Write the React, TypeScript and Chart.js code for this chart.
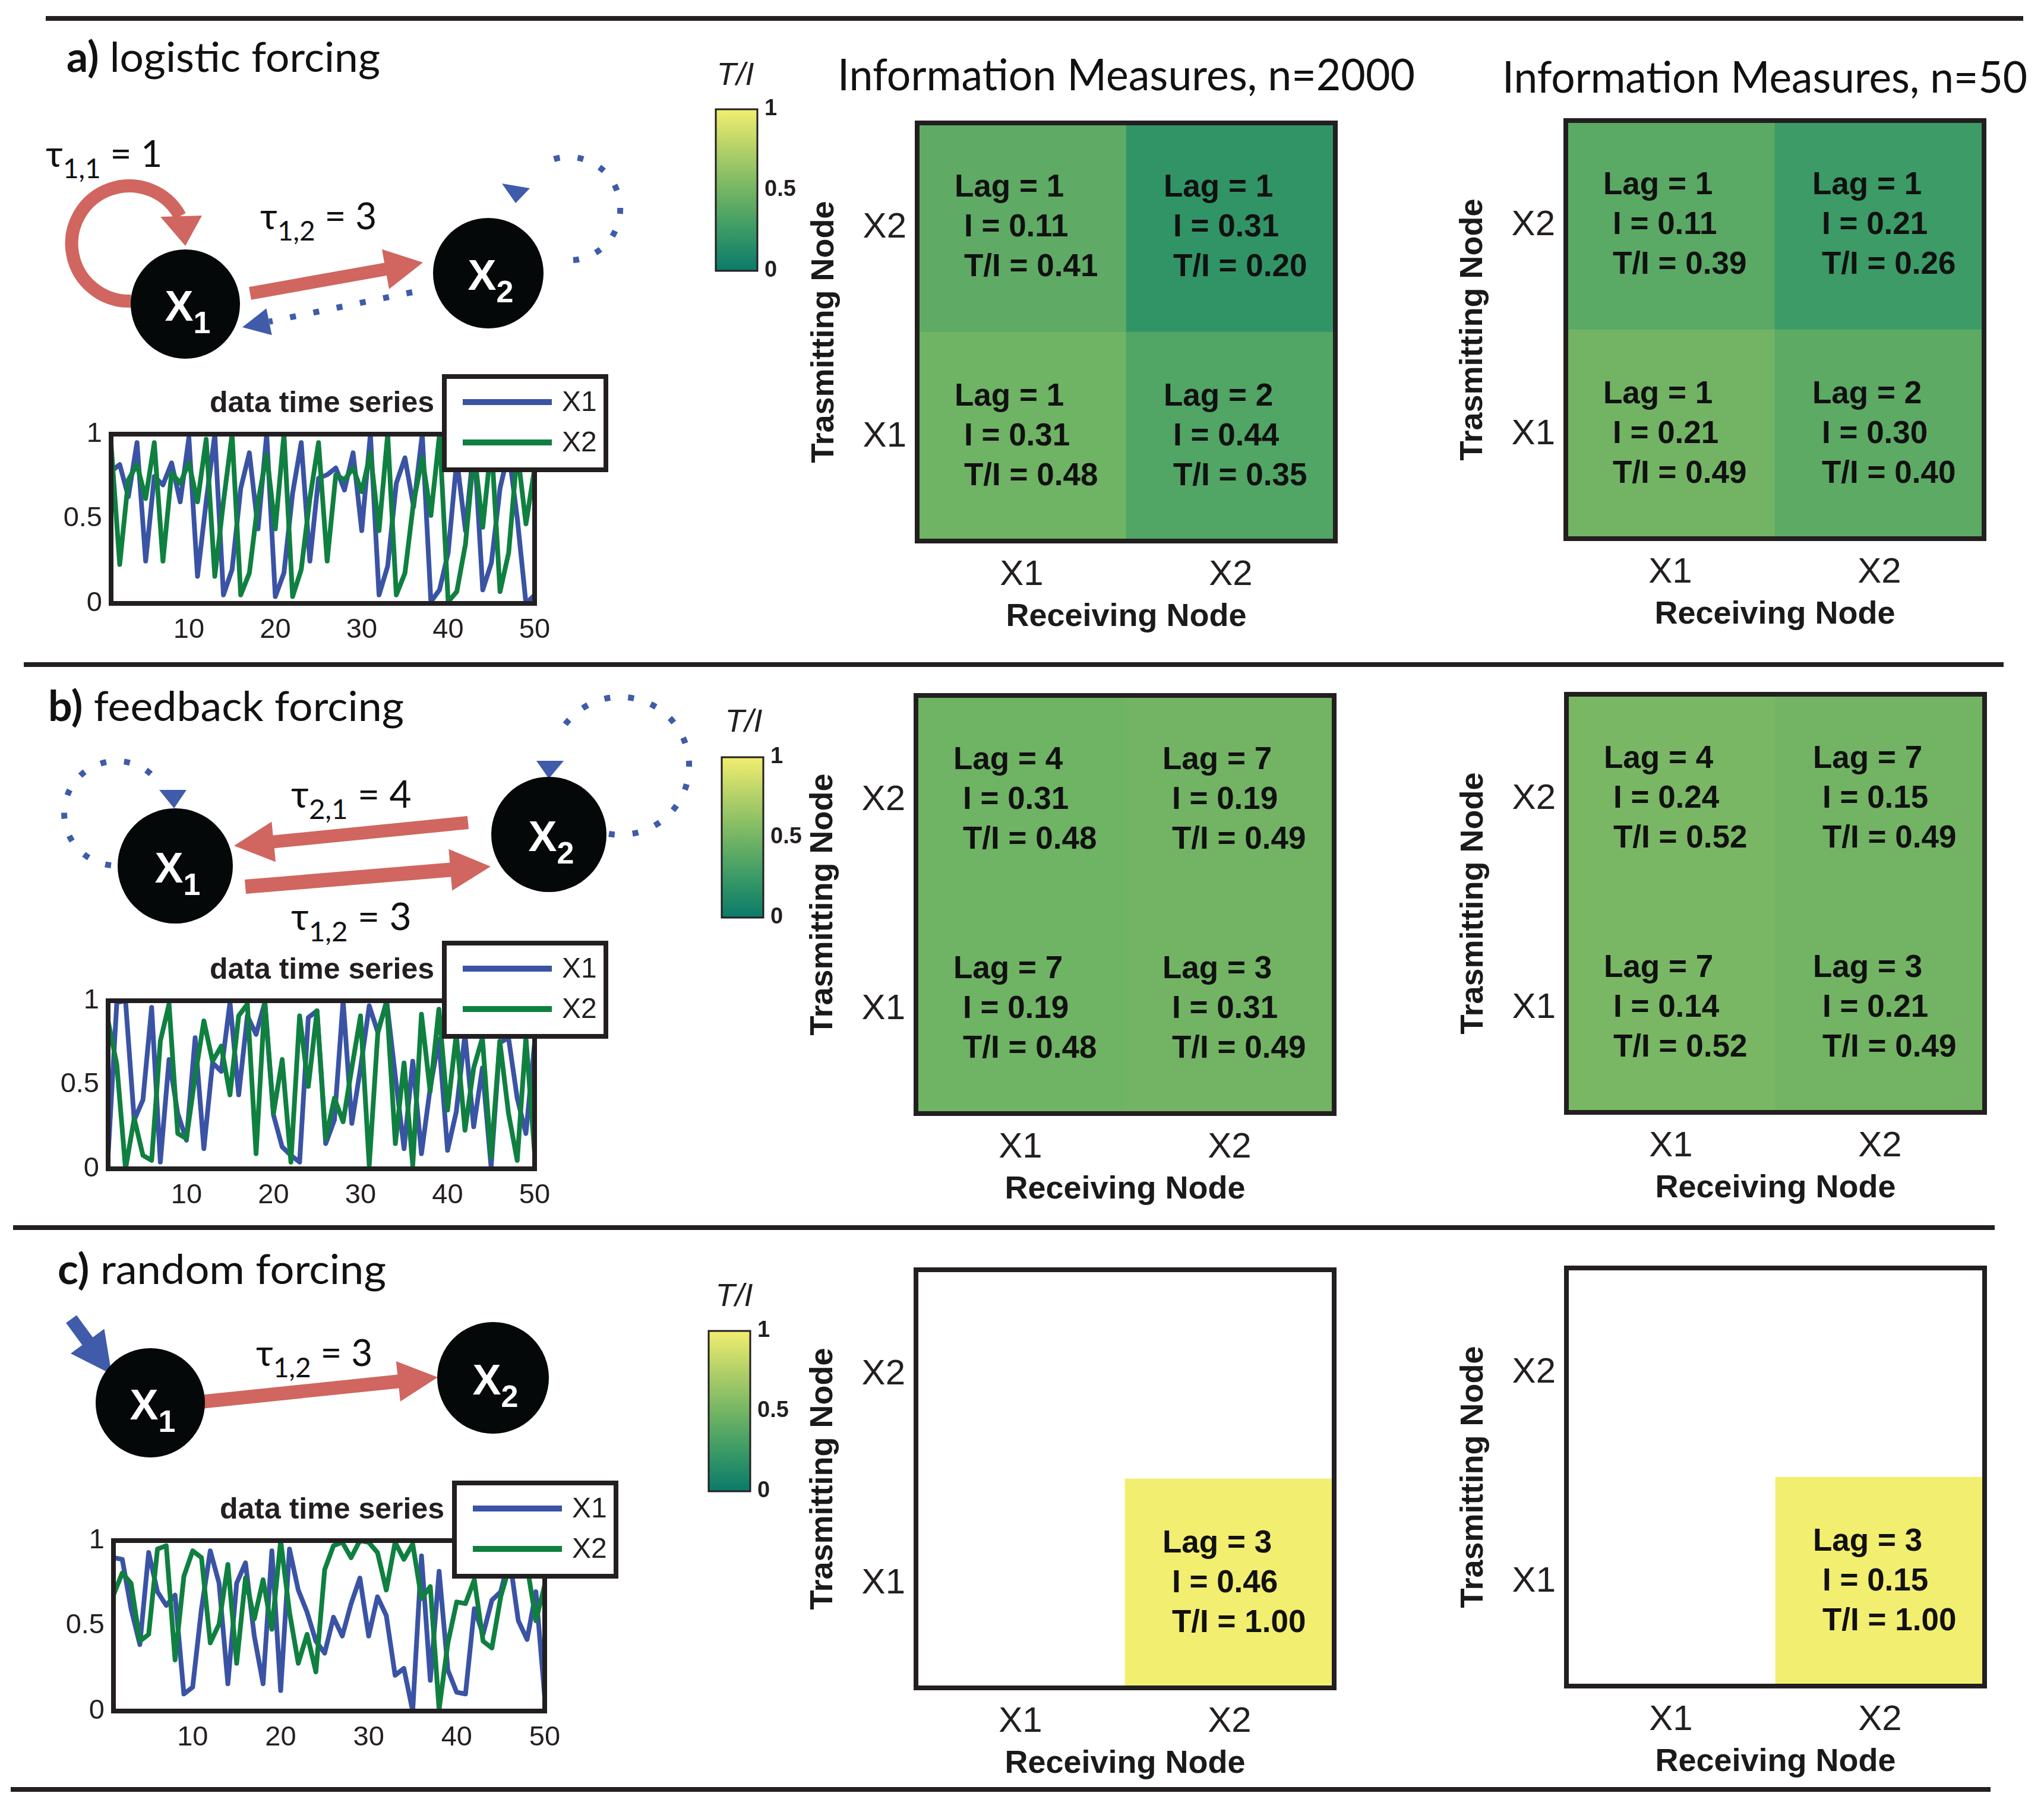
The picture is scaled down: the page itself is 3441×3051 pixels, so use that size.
import React, { useEffect, useRef } from 'react';
import { Chart, registerables } from 'chart.js';

Chart.register(...registerables);

// ---------------- data ----------------
const timeSteps = Array.from({ length: 50 }, (_, i) => i + 1);
const tsTickValues = [10, 20, 30, 40, 50];
const tsYTickValues = [0, 0.5, 1];
const seriesNames = ['X1', 'X2'];
const tsTitle = 'data time series';

const logisticX1 = [0.78, 0.82, 0.63, 0.95, 0.25, 0.75, 0.70, 0.83, 0.60, 0.98, 0.16, 0.60, 1.00, 0.05, 0.20, 0.68, 0.89, 0.44, 1.00, 0.04, 0.18, 0.65, 0.95, 0.25, 0.74, 0.76, 0.80, 0.67, 0.89, 0.43, 1.00, 0.05, 0.22, 0.71, 0.86, 0.57, 1.00, 0.01, 0.08, 0.30, 0.85, 0.43, 0.95, 0.08, 0.24, 0.68, 0.90, 0.50, 0.00, 0.05];
const logisticX2 = [0.94, 0.23, 0.73, 0.82, 0.62, 0.95, 0.25, 0.77, 0.71, 0.83, 0.60, 0.97, 0.16, 0.60, 1.00, 0.05, 0.18, 0.60, 0.88, 0.44, 1.00, 0.04, 0.20, 0.62, 0.95, 0.25, 0.76, 0.73, 0.80, 0.66, 0.89, 0.43, 1.00, 0.05, 0.18, 0.60, 0.86, 0.52, 1.00, 0.01, 0.07, 0.35, 0.90, 0.45, 0.95, 0.07, 0.30, 0.90, 0.47, 0.80];

const feedbackX1 = [0.08, 0.99, 1.00, 0.29, 0.41, 0.96, 0.04, 0.65, 0.33, 0.17, 0.78, 0.12, 0.63, 0.58, 0.99, 0.44, 0.91, 0.80, 0.99, 0.32, 0.13, 0.08, 0.04, 0.90, 0.94, 0.15, 0.29, 1.00, 0.27, 0.60, 0.97, 0.81, 1.00, 0.55, 0.12, 0.64, 0.09, 0.48, 0.77, 0.11, 0.34, 0.80, 0.25, 0.60, 0.01, 0.75, 0.78, 0.42, 0.21, 0.75];
const feedbackX2 = [0.88, 0.62, 0.00, 0.30, 0.08, 0.05, 0.76, 0.98, 0.21, 0.18, 0.55, 0.88, 0.64, 0.73, 0.44, 0.91, 0.98, 0.09, 1.00, 0.33, 0.65, 0.04, 0.91, 0.49, 0.94, 0.18, 0.42, 0.28, 0.60, 0.91, 0.02, 0.82, 0.99, 0.15, 0.63, 0.02, 0.92, 0.46, 0.95, 0.35, 0.80, 0.23, 0.60, 0.78, 0.07, 0.76, 0.33, 0.05, 0.78, 0.09];

const randomX1 = [0.90, 0.89, 0.60, 0.39, 0.93, 0.70, 0.62, 0.68, 0.10, 0.14, 0.60, 0.94, 0.75, 0.16, 0.75, 0.87, 0.44, 0.16, 0.94, 0.12, 0.95, 0.71, 0.58, 0.41, 0.34, 0.55, 0.44, 0.63, 0.78, 0.44, 0.67, 0.56, 0.21, 0.25, 0.00, 0.91, 0.18, 0.82, 0.24, 0.11, 0.10, 0.60, 0.45, 0.65, 0.70, 0.90, 0.53, 0.42, 0.70, 0.08];
const randomX2 = [0.68, 0.81, 0.75, 0.41, 0.45, 0.95, 0.97, 0.30, 0.79, 0.94, 0.90, 0.40, 0.51, 0.86, 0.28, 0.78, 0.54, 0.77, 0.48, 1.00, 0.58, 0.28, 0.45, 0.23, 0.83, 0.97, 0.99, 0.90, 1.00, 0.99, 0.93, 0.71, 0.99, 0.89, 0.98, 0.66, 0.73, 0.01, 0.40, 0.64, 0.63, 0.77, 0.41, 0.37, 0.67, 0.85, 0.80, 0.85, 0.53, 0.74];

// heatmap cells: rows = transmitting node [X1, X2], columns = receiving node [X1, X2]
const nodeNames = ['X1', 'X2'];
const receivingTitle = 'Receiving Node';
const transmittingTitle = 'Trasmitting Node';

const lagLogistic2000 = [[1, 2], [1, 1]];
const miLogistic2000 = [[0.31, 0.44], [0.11, 0.31]];
const tiLogistic2000 = [[0.48, 0.35], [0.41, 0.20]];
const lagLogistic50 = [[1, 2], [1, 1]];
const miLogistic50 = [[0.21, 0.30], [0.11, 0.21]];
const tiLogistic50 = [[0.49, 0.40], [0.39, 0.26]];

const lagFeedback2000 = [[7, 3], [4, 7]];
const miFeedback2000 = [[0.19, 0.31], [0.31, 0.19]];
const tiFeedback2000 = [[0.48, 0.49], [0.48, 0.49]];
const lagFeedback50 = [[7, 3], [4, 7]];
const miFeedback50 = [[0.14, 0.21], [0.24, 0.15]];
const tiFeedback50 = [[0.52, 0.49], [0.52, 0.49]];

const lagRandom2000 = [[null, 3], [null, null]];
const miRandom2000 = [[null, 0.46], [null, null]];
const tiRandom2000 = [[null, 1.0], [null, null]];
const lagRandom50 = [[null, 3], [null, null]];
const miRandom50 = [[null, 0.15], [null, null]];
const tiRandom50 = [[null, 1.0], [null, null]];

const colorbarRange = [0, 1];
const colorbarTicks = [0, 0.5, 1];

// ---------------- styles ----------------
const SANS = '"Liberation Sans", Arial, sans-serif';
const HUMAN = 'Lato, "Noto Sans", "DejaVu Sans", sans-serif';
const INK = '#231F20';
const BLUE = '#3A53A4';
const GREEN = '#0F8040';
const RED = '#D0665F';
const DOT_BLUE = '#3F5BA9';
const COLORMAP: [number, string][] = [
  [0, '#0B7A6A'],
  [0.25, '#3A9A66'],
  [0.5, '#74B564'],
  [0.75, '#B2D068'],
  [1, '#F2EE70'],
];

function hexToRgb(h: string) {
  return [parseInt(h.slice(1, 3), 16), parseInt(h.slice(3, 5), 16), parseInt(h.slice(5, 7), 16)];
}
function colormap(v: number) {
  const t = Math.max(0, Math.min(1, v));
  for (let i = 0; i < COLORMAP.length - 1; i++) {
    const [t0, c0] = COLORMAP[i];
    const [t1, c1] = COLORMAP[i + 1];
    if (t <= t1) {
      const f = (t - t0) / (t1 - t0);
      const a = hexToRgb(c0);
      const b = hexToRgb(c1);
      const c = a.map((x, k) => Math.round(x + f * (b[k] - x)));
      return `rgb(${c[0]},${c[1]},${c[2]})`;
    }
  }
  return COLORMAP[COLORMAP.length - 1][1];
}

const plainNumber = (v: any) => `${v}`;

const framePlugin = (w: number) => ({
  id: 'frame',
  afterDatasetsDraw(chart: any) {
    const { ctx, chartArea: a } = chart;
    ctx.save();
    ctx.strokeStyle = INK;
    ctx.lineWidth = w;
    ctx.strokeRect(a.left, a.top, a.right - a.left, a.bottom - a.top);
    ctx.restore();
  },
});

const tsLegendPlugin = {
  id: 'tsLegend',
  afterDraw(chart: any) {
    const { ctx, chartArea: a } = chart;
    const lx = a.right - 152;
    const ly = a.top - 97;
    const lw = 272;
    const lh = 157;
    ctx.save();
    ctx.fillStyle = '#fff';
    ctx.fillRect(lx, ly, lw, lh);
    ctx.lineWidth = 8;
    ctx.strokeStyle = INK;
    ctx.strokeRect(lx, ly, lw, lh);
    chart.data.datasets.forEach((ds: any, i: number) => {
      const y = ly + 43 + i * 68;
      ctx.strokeStyle = ds.borderColor;
      ctx.lineWidth = 10;
      ctx.beginPath();
      ctx.moveTo(lx + 31, y);
      ctx.lineTo(lx + 181, y);
      ctx.stroke();
      ctx.fillStyle = INK;
      ctx.font = `48px ${SANS}`;
      ctx.textAlign = 'left';
      ctx.textBaseline = 'middle';
      ctx.fillText(ds.label, lx + 198, y + 2);
    });
    ctx.fillStyle = INK;
    ctx.font = `bold 50px ${SANS}`;
    ctx.textAlign = 'right';
    ctx.textBaseline = 'alphabetic';
    ctx.fillText(tsTitle, lx - 17, a.top - 37);
    ctx.restore();
  },
};

// ---------------- components ----------------
function TimeSeries({ area, x1, x2 }: any) {
  const ref = useRef<HTMLCanvasElement>(null);
  const [L, T, R, B] = area;
  const YW = 107, XH = 90, PT = 131, PR = 180;
  const cl = L - YW, ct = T - PT;
  const cw = R - L + YW + PR, ch = B - T + PT + XH;
  useEffect(() => {
    const mk = (arr: number[]) => timeSteps.map((t, i) => ({ x: t, y: arr[i] }));
    const chart = new Chart(ref.current as any, {
      type: 'line',
      data: {
        datasets: [
          { label: seriesNames[0], data: mk(x1), borderColor: BLUE, borderWidth: 8, pointRadius: 0, borderJoinStyle: 'round', tension: 0, order: 1 },
          { label: seriesNames[1], data: mk(x2), borderColor: GREEN, borderWidth: 8, pointRadius: 0, borderJoinStyle: 'round', tension: 0, order: 0 },
        ],
      } as any,
      options: {
        animation: false,
        responsive: false,
        devicePixelRatio: 1,
        layout: { padding: { left: 0, top: PT, right: PR, bottom: 0 } },
        plugins: { legend: { display: false }, tooltip: { enabled: false }, title: { display: false } },
        scales: {
          x: {
            type: 'linear',
            min: timeSteps[0],
            max: timeSteps[timeSteps.length - 1],
            grid: { display: false, drawTicks: false },
            border: { display: false },
            afterBuildTicks: (s: any) => { s.ticks = tsTickValues.map((v) => ({ value: v })); },
            afterFit: (s: any) => { s.height = XH; },
            ticks: { padding: 17, autoSkip: false, maxRotation: 0, color: INK, font: { family: SANS, size: 47 }, callback: plainNumber },
          },
          y: {
            type: 'linear',
            min: 0,
            max: 1,
            grid: { display: false, drawTicks: false },
            border: { display: false },
            afterBuildTicks: (s: any) => { s.ticks = tsYTickValues.map((v) => ({ value: v })); },
            afterFit: (s: any) => { s.width = YW; },
            ticks: { padding: 15, color: INK, font: { family: SANS, size: 47 }, callback: plainNumber },
          },
        },
      } as any,
      plugins: [framePlugin(8), tsLegendPlugin] as any,
    });
    return () => chart.destroy();
  }, []);
  return <canvas ref={ref} width={cw} height={ch} style={{ position: 'absolute', left: cl, top: ct, width: cw, height: ch }} />;
}

function Heatmap({ L, T, S, lag, mi, ti }: any) {
  const ref = useRef<HTMLCanvasElement>(null);
  const YW = 200, PL = 10, PT = 70, PR = 12, XH = 170;
  const cl = L - YW - PL, ct = T - PT;
  const cw = PL + YW + S + PR, ch = PT + S + XH;
  useEffect(() => {
    const cellText = {
      id: 'cellText',
      afterDatasetsDraw(chart: any) {
        const { ctx } = chart;
        ctx.save();
        ctx.fillStyle = '#111';
        ctx.font = `bold 53px ${SANS}`;
        ctx.textAlign = 'left';
        ctx.textBaseline = 'alphabetic';
        chart.data.datasets.forEach((_: any, r: number) => {
          const meta = chart.getDatasetMeta(r);
          meta.data.forEach((el: any, c: number) => {
            if (ti[r][c] == null) return;
            const p = el.getProps(['x', 'y', 'base', 'width'], true);
            const left = p.x - p.width / 2;
            const top = Math.min(p.y, p.base);
            ctx.fillText(`Lag = ${lag[r][c]}`, left + 63, top + 124);
            ctx.fillText(`I = ${mi[r][c].toFixed(2)}`, left + 79, top + 191);
            ctx.fillText(`T/I = ${ti[r][c].toFixed(2)}`, left + 79, top + 258);
          });
        });
        ctx.restore();
      },
    };
    const datasets = nodeNames.map((tn, r) => ({
      label: tn,
      data: nodeNames.map((_, c) => (ti[r][c] == null ? null : [r, r + 1])),
      backgroundColor: nodeNames.map((_, c) => (ti[r][c] == null ? 'rgba(0,0,0,0)' : colormap(ti[r][c]))),
      borderWidth: 0,
      grouped: false,
      barPercentage: 1,
      categoryPercentage: 1,
    }));
    const chart = new Chart(ref.current as any, {
      type: 'bar',
      data: { labels: nodeNames, datasets } as any,
      options: {
        animation: false,
        responsive: false,
        devicePixelRatio: 1,
        layout: { padding: { left: PL, top: PT, right: PR, bottom: 0 } },
        plugins: { legend: { display: false }, tooltip: { enabled: false } },
        scales: {
          x: {
            type: 'category',
            offset: true,
            grid: { display: false, drawTicks: false },
            border: { display: false },
            afterFit: (s: any) => { s.height = XH; },
            ticks: { padding: 21, color: INK, font: { family: SANS, size: 60 } },
            title: { display: true, text: receivingTitle, color: '#1a1a1a', font: { family: SANS, size: 54, weight: 'bold' }, padding: { top: 0, bottom: 9 } },
          },
          y: {
            type: 'linear',
            min: 0,
            max: nodeNames.length,
            grid: { display: false, drawTicks: false },
            border: { display: false },
            afterBuildTicks: (s: any) => { s.ticks = nodeNames.map((_, i) => ({ value: i + 0.5 })); },
            afterFit: (s: any) => { s.width = YW; },
            ticks: { padding: 18, color: INK, font: { family: SANS, size: 60 }, callback: (v: any) => nodeNames[Math.floor(v)] },
            title: { display: true, text: transmittingTitle, color: '#1a1a1a', font: { family: SANS, size: 54, weight: 'bold' }, padding: { top: 12, bottom: 0 } },
          },
        },
      } as any,
      plugins: [cellText, framePlugin(8)] as any,
    });
    return () => chart.destroy();
  }, []);
  return <canvas ref={ref} width={cw} height={ch} style={{ position: 'absolute', left: cl, top: ct, width: cw, height: ch }} />;
}

function Colorbar({ L, T, W, H }: any) {
  const ref = useRef<HTMLCanvasElement>(null);
  const PL = 4, PV = 50, YW = 90;
  const cl = L - PL, ct = T - PV;
  const cw = PL + W + YW, ch = H + 2 * PV;
  useEffect(() => {
    const chart = new Chart(ref.current as any, {
      type: 'bar',
      data: {
        labels: [''],
        datasets: [{
          data: [colorbarRange],
          borderWidth: 0,
          barPercentage: 1,
          categoryPercentage: 1,
          backgroundColor: (c: any) => {
            const a = c.chart.chartArea;
            if (!a) return COLORMAP[2][1];
            const g = c.chart.ctx.createLinearGradient(0, a.bottom, 0, a.top);
            COLORMAP.forEach(([t, col]) => g.addColorStop(t, col));
            return g;
          },
        }],
      } as any,
      options: {
        animation: false,
        responsive: false,
        devicePixelRatio: 1,
        layout: { padding: { left: PL, top: PV, right: 0, bottom: PV } },
        plugins: { legend: { display: false }, tooltip: { enabled: false } },
        scales: {
          x: { display: false },
          y: {
            position: 'right',
            min: colorbarRange[0],
            max: colorbarRange[1],
            grid: { display: false, drawTicks: false },
            border: { display: false },
            afterBuildTicks: (s: any) => { s.ticks = colorbarTicks.map((v) => ({ value: v })); },
            afterFit: (s: any) => { s.width = YW; },
            ticks: { padding: 12, color: INK, font: { family: SANS, size: 38, weight: 'bold' }, callback: plainNumber },
          },
        },
      } as any,
      plugins: [framePlugin(3)] as any,
    });
    return () => chart.destroy();
  }, []);
  return <canvas ref={ref} width={cw} height={ch} style={{ position: 'absolute', left: cl, top: ct, width: cw, height: ch }} />;
}

function arrowPoints(sx: number, sy: number, tx: number, ty: number, shaftW: number, headLen: number, headHalf: number) {
  const dx = tx - sx, dy = ty - sy;
  const len = Math.hypot(dx, dy);
  const ux = dx / len, uy = dy / len;
  const px = -uy, py = ux;
  const bx = tx - ux * headLen, by = ty - uy * headLen;
  const h = shaftW / 2;
  const pts = [
    [sx + px * h, sy + py * h],
    [bx + px * h, by + py * h],
    [bx + px * headHalf, by + py * headHalf],
    [tx, ty],
    [bx - px * headHalf, by - py * headHalf],
    [bx - px * h, by - py * h],
    [sx - px * h, sy - py * h],
  ];
  return pts.map((p) => p.map((v) => v.toFixed(1)).join(',')).join(' ');
}

function headPoints(sx: number, sy: number, tx: number, ty: number, headLen: number, headHalf: number) {
  const dx = tx - sx, dy = ty - sy;
  const len = Math.hypot(dx, dy);
  const ux = dx / len, uy = dy / len;
  const px = -uy, py = ux;
  const bx = tx - ux * headLen, by = ty - uy * headLen;
  return { pts: `${bx + px * headHalf},${by + py * headHalf} ${tx},${ty} ${bx - px * headHalf},${by - py * headHalf}`, bx, by };
}

function Node({ cx, cy, r, sub }: any) {
  return (
    <g>
      <circle cx={cx} cy={cy} r={r} fill="#050808" />
      <text x={cx + 4} y={cy + 28} fill="#fff" fontFamily={SANS} fontWeight="bold" fontSize={72} textAnchor="middle">
        X<tspan fontSize={52} dy={21}>{sub}</tspan>
      </text>
    </g>
  );
}

function Tau({ x, y, sub, val, size = 62 }: any) {
  return (
    <text x={x} y={y} fontFamily={HUMAN} fontSize={size} fill="#111">
      τ<tspan fontSize={size * 0.74} dy={size * 0.3}>{sub}</tspan>
      <tspan dy={-size * 0.3}>{` = ${val}`}</tspan>
    </text>
  );
}

function Diagrams() {
  const dot = { stroke: DOT_BLUE, strokeWidth: 10, strokeDasharray: '10 30', fill: 'none' } as any;
  const aDot = headPoints(694, 492, 408, 551, 46, 23);
  return (
    <svg width={3441} height={3051} style={{ position: 'absolute', left: 0, top: 0 }}>
      {/* separators */}
      <line x1={77} y1={31} x2={3406} y2={31} stroke={INK} strokeWidth={8} />
      <line x1={40} y1={1119} x2={3373} y2={1119} stroke={INK} strokeWidth={8} />
      <line x1={22} y1={2067} x2={3358} y2={2067} stroke={INK} strokeWidth={8} />
      <line x1={18} y1={3013} x2={3351} y2={3013} stroke={INK} strokeWidth={8} />

      {/* panel titles */}
      <text x={112} y={121} fontFamily={HUMAN} fontSize={70} fill="#111" textLength={528} lengthAdjust="spacingAndGlyphs">
        <tspan fontWeight="bold">a)</tspan> logistic forcing
      </text>
      <text x={81} y={1214} fontFamily={HUMAN} fontSize={70} fill="#111" textLength={599} lengthAdjust="spacingAndGlyphs">
        <tspan fontWeight="bold">b)</tspan> feedback forcing
      </text>
      <text x={97} y={2162} fontFamily={HUMAN} fontSize={70} fill="#111" textLength={553} lengthAdjust="spacingAndGlyphs">
        <tspan fontWeight="bold">c)</tspan> random forcing
      </text>
      <text x={1410} y={152} fontFamily={HUMAN} fontSize={74} fill="#111" textLength={972} lengthAdjust="spacingAndGlyphs">Information Measures, n=2000</text>
      <text x={2529} y={156} fontFamily={HUMAN} fontSize={74} fill="#111" textLength={884} lengthAdjust="spacingAndGlyphs">Information Measures, n=50</text>

      {/* colorbar labels */}
      <text x={1238} y={143} fontFamily={SANS} fontStyle="italic" fontSize={54} fill={INK} textAnchor="middle">T/I</text>
      <text x={1252} y={1232} fontFamily={SANS} fontStyle="italic" fontSize={54} fill={INK} textAnchor="middle">T/I</text>
      <text x={1236} y={2199} fontFamily={SANS} fontStyle="italic" fontSize={54} fill={INK} textAnchor="middle">T/I</text>

      {/* (a) logistic forcing */}
      <path d="M 221 507 A 97 97 0 1 1 303 364" stroke={RED} strokeWidth={22} fill="none" />
      <polygon points="270,365 340,363 312,414" fill={RED} />
      <path d="M 965 438 A 87 87 0 1 0 906 281" {...dot} />
      <polygon points="845,309 892,317 868,342" fill={DOT_BLUE} />
      <line x1={694} y1={492} x2={aDot.bx} y2={aDot.by} {...dot} />
      <polygon points={aDot.pts} fill={DOT_BLUE} />
      <polygon points={arrowPoints(421, 494, 712, 442, 22, 64, 34)} fill={RED} />
      <Node cx={312} cy={512} r={92} sub="1" />
      <Node cx={822} cy={460} r={93} sub="2" />
      <Tau x={77} y={281} sub="1,1" val="1" />
      <Tau x={438} y={386} sub="1,2" val="3" />

      {/* (b) feedback forcing */}
      <path d="M 187 1457 A 88 88 0 1 1 257 1306" {...dot} />
      <polygon points="268,1330 314,1330 293,1361" fill={DOT_BLUE} />
      <path d="M 1025 1404 A 116 116 0 1 0 937 1245" {...dot} />
      <polygon points="903,1281 949,1281 924,1311" fill={DOT_BLUE} />
      <polygon points={arrowPoints(788, 1385, 394, 1424, 22, 67, 34)} fill={RED} />
      <polygon points={arrowPoints(413, 1493, 826, 1459, 24, 68, 35)} fill={RED} />
      <Node cx={295} cy={1458} r={97} sub="1" />
      <Node cx={924} cy={1405} r={97} sub="2" />
      <Tau x={490} y={1360} sub="2,1" val="4" size={64} />
      <Tau x={490} y={1566} sub="1,2" val="3" size={64} />

      {/* (c) random forcing */}
      <polygon points={arrowPoints(120, 2221, 188, 2314, 22, 69, 35)} fill={DOT_BLUE} />
      <polygon points={arrowPoints(342, 2360, 737, 2319, 23, 67, 34)} fill={RED} />
      <Node cx={253} cy={2362} r={92} sub="1" />
      <Node cx={830} cy={2320} r={94} sub="2" />
      <Tau x={431} y={2300} sub="1,2" val="3" />
    </svg>
  );
}

export default function App() {
  return (
    <div style={{ position: 'relative', width: 3441, height: 3051, background: '#fff', overflow: 'hidden' }}>
      <style>{'body{margin:0;background:#fff;}'}</style>
      <Diagrams />
      <TimeSeries area={[187, 731, 900, 1016]} x1={logisticX1} x2={logisticX2} />
      <TimeSeries area={[182, 1685, 900, 1968]} x1={feedbackX1} x2={feedbackX2} />
      <TimeSeries area={[191, 2594, 917, 2881]} x1={randomX1} x2={randomX2} />

      <Colorbar L={1205} T={184} W={70} H={272} />
      <Colorbar L={1215} T={1275} W={70} H={270} />
      <Colorbar L={1193} T={2241} W={70} H={270} />

      <Heatmap L={1544} T={207} S={704} lag={lagLogistic2000} mi={miLogistic2000} ti={tiLogistic2000} />
      <Heatmap L={2636} T={203} S={704} lag={lagLogistic50} mi={miLogistic50} ti={tiLogistic50} />
      <Heatmap L={1542} T={1171} S={704} lag={lagFeedback2000} mi={miFeedback2000} ti={tiFeedback2000} />
      <Heatmap L={2637} T={1169} S={704} lag={lagFeedback50} mi={miFeedback50} ti={tiFeedback50} />
      <Heatmap L={1542} T={2138} S={704} lag={lagRandom2000} mi={miRandom2000} ti={tiRandom2000} />
      <Heatmap L={2637} T={2135} S={704} lag={lagRandom50} mi={miRandom50} ti={tiRandom50} />
    </div>
  );
}
